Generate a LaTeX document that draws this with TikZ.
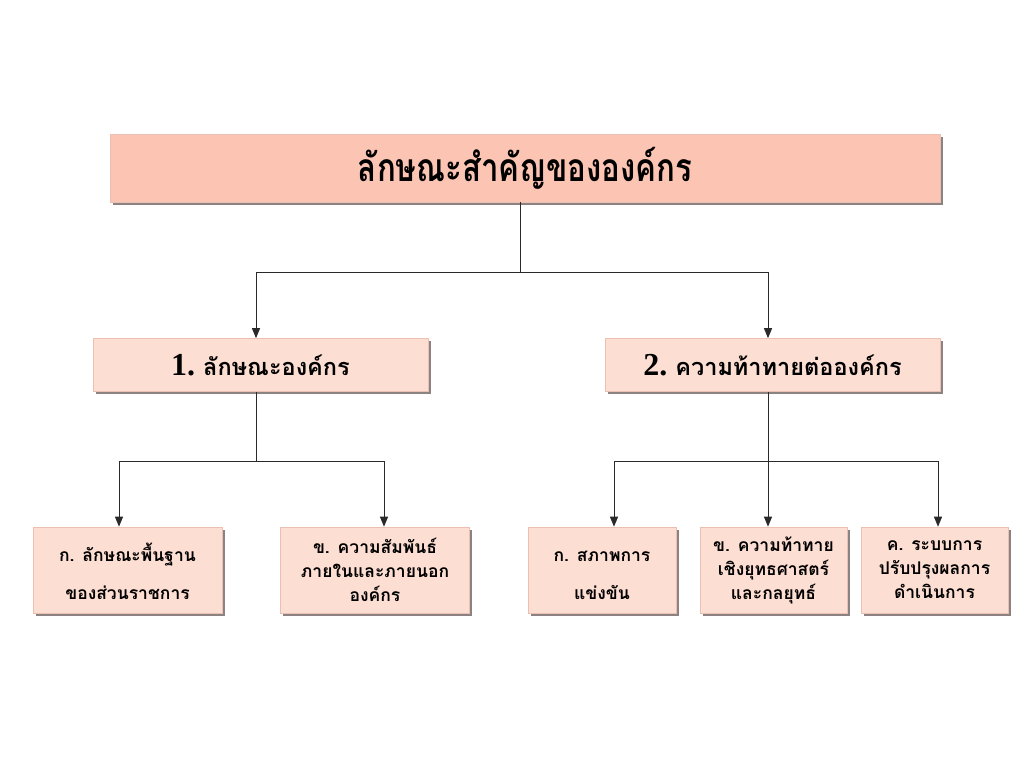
\documentclass[tikz,border=0pt]{standalone}
\usepackage{fontspec}
\setmainfont{Liberation Serif}
\newfontfamily\thai[Script=Thai]{Loma}
\newfontfamily\thaititle[Script=Thai,FakeStretch=0.8]{Loma}
\usetikzlibrary{shadows,arrows.meta}
\definecolor{titlefill}{HTML}{FCC4B2}
\definecolor{boxfill}{HTML}{FDDED3}
\definecolor{edgecol}{HTML}{EBC0B2}
\definecolor{shade}{HTML}{8C8282}
\definecolor{linecol}{HTML}{2A2A2A}
\begin{document}
\begin{tikzpicture}[x=1pt,y=-1pt,
  box/.style={rectangle, fill=boxfill, draw=edgecol, line width=0.6pt, inner sep=0pt, align=center,
    drop shadow={shadow xshift=2.5pt, shadow yshift=-2.5pt, fill=shade, opacity=1}},
  conn/.style={draw=linecol, line width=0.9pt},
  arr/.style={conn, -{Triangle[length=10pt,width=8pt]}},
  midbox/.style={box, minimum width=335pt, minimum height=53pt},
  lowbox/.style={box, minimum height=86pt, font=\thai\bfseries\fontsize{17.5}{24}\selectfont}
]
\fill[white] (0,0) rectangle (1024,768);
\useasboundingbox (0,0) rectangle (1024,768);

\node[box, fill=titlefill, minimum width=830pt, minimum height=68pt,
  font=\thaititle\bfseries\fontsize{39}{42}\selectfont] (top) at (525,168) {ลักษณะสำคัญขององค์กร};

\node[midbox] (m1) at (260.5,365) {{\bfseries\fontsize{32}{32}\selectfont 1.}\hspace{8pt}{\thai\bfseries\fontsize{23.5}{26}\selectfont ลักษณะองค์กร}};
\node[midbox] (m2) at (772.5,365) {{\bfseries\fontsize{32}{32}\selectfont 2.}\hspace{8pt}{\thai\bfseries\fontsize{23.5}{26}\selectfont ความท้าทายต่อองค์กร}};

\node[lowbox, minimum width=189pt] (b1) at (127.5,570) {\rule{0pt}{22pt}ก. ลักษณะพื้นฐาน\\[14pt]ของส่วนราชการ};
\node[lowbox, minimum width=189pt] (b2) at (375,570) {ข. ความสัมพันธ์\\ภายในและภายนอก\\องค์กร};
\node[lowbox, minimum width=148pt] (b3) at (602,570) {\rule{0pt}{22pt}ก. สภาพการ\\[14pt]แข่งขัน};
\node[lowbox, minimum width=147pt] (b4) at (773.5,570) {ข. ความท้าทาย\\เชิงยุทธศาสตร์\\และกลยุทธ์};
\node[lowbox, minimum width=147pt] (b5) at (934.5,570) {ค. ระบบการ\\ปรับปรุงผลการ\\ดำเนินการ};

% top level connectors
\coordinate (s0) at (520,272);
\coordinate (l1) at (256,272);
\coordinate (r1) at (768,272);
\draw[conn] (top.south -| s0) -- (s0);
\draw[conn] (l1) -- (r1);
\draw[arr] (l1) -- (l1 |- m1.north);
\draw[arr] (r1) -- (r1 |- m2.north);

% left branch
\coordinate (s1) at (256,461);
\coordinate (a11) at (119,461);
\coordinate (a12) at (384,461);
\draw[conn] (m1.south -| s1) -- (s1);
\draw[conn] (a11) -- (a12);
\draw[arr] (a11) -- (a11 |- b1.north);
\draw[arr] (a12) -- (a12 |- b2.north);

% right branch
\coordinate (s2) at (768,461);
\coordinate (a21) at (614,461);
\coordinate (a23) at (938,461);
\draw[conn] (m2.south -| s2) -- (s2);
\draw[conn] (a21) -- (a23);
\draw[arr] (a21) -- (a21 |- b3.north);
\draw[arr] (s2) -- (s2 |- b4.north);
\draw[arr] (a23) -- (a23 |- b5.north);
\end{tikzpicture}
\end{document}
